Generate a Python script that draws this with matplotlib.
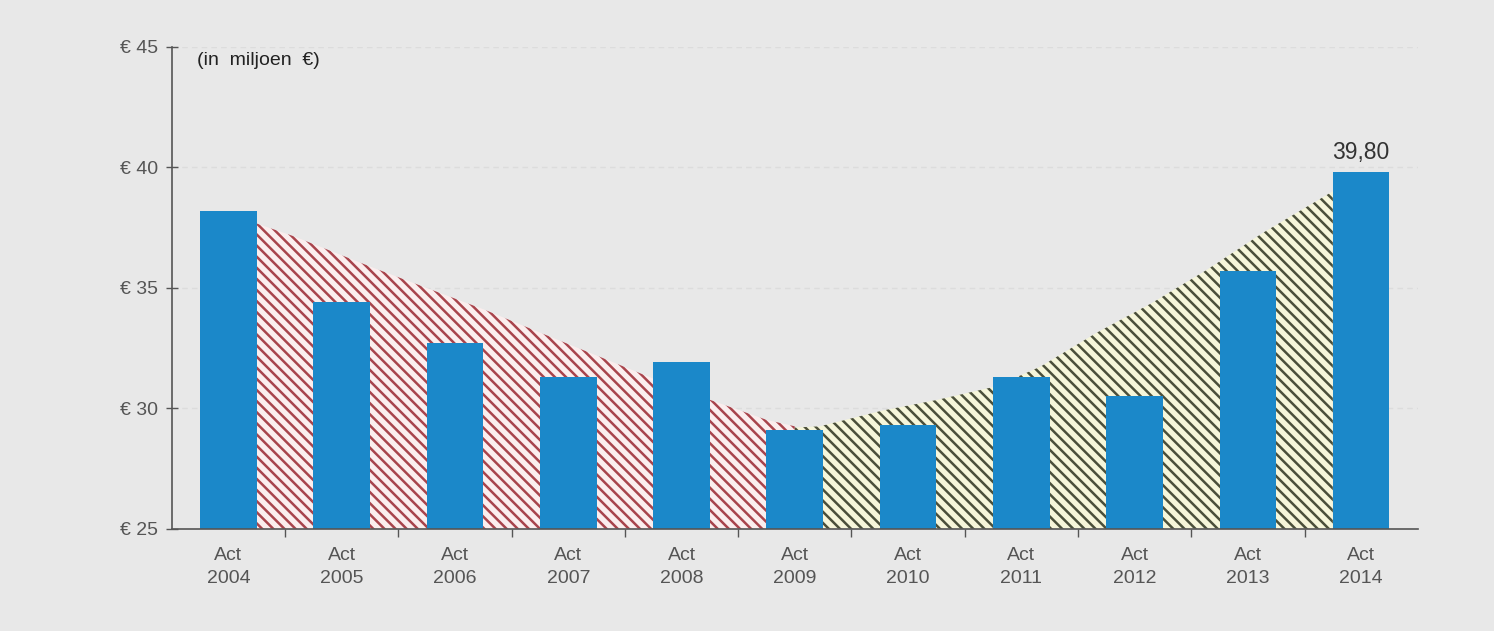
import numpy as np
import matplotlib
matplotlib.use('Agg')
import matplotlib.pyplot as plt

jaren = ['2004', '2005', '2006', '2007', '2008', '2009', '2010', '2011', '2012', '2013', '2014']
waarden = [38.2, 34.4, 32.7, 31.3, 31.9, 29.1, 29.3, 31.3, 30.5, 35.7, 39.8]

# trendlijn dalend (rood) en stijgend (groen)
daling_x = [0.24, 0.58, 1.25, 1.75, 2.26, 2.76, 3.27, 3.74, 4.25, 4.75, 5.0]
daling_y = [37.68, 37.13, 35.88, 34.99, 34.09, 33.12, 32.15, 31.25, 30.35, 29.52, 29.25]
stijging_x = [5.0, 5.22, 5.77, 6.26, 6.77, 7.17, 7.66, 8.15, 8.64, 9.13, 9.75]
stijging_y = [29.2, 29.25, 29.9, 30.35, 30.9, 31.73, 33.12, 34.36, 35.75, 37.27, 39.0]

plt.rcParams['hatch.linewidth'] = 1.8
plt.rcParams['font.family'] = ['Liberation Sans', 'DejaVu Sans']
achtergrond = '#e8e8e8'

fig = plt.figure(figsize=(14.94, 6.31), dpi=100, facecolor=achtergrond)
ax = fig.add_axes([0.115, 0.162, 0.834, 0.764])
ax.set_facecolor(achtergrond)

x = np.arange(len(jaren))
ax.fill_between(daling_x, 25, daling_y, facecolor='#fbeeee', edgecolor='#a8444c',
                hatch='\\\\\\', linewidth=0, zorder=1)
ax.fill_between(stijging_x, 25, stijging_y, facecolor='#f6f6da', edgecolor='#4a4f3a',
                hatch='\\\\\\', linewidth=0, zorder=1)
ax.bar(x, [w - 25 for w in waarden], bottom=25, width=0.5, color='#1b88c9', zorder=2)

ax.set_xlim(-0.5, 10.5)
ax.set_ylim(25, 45)
ax.set_yticks([25, 30, 35, 40, 45])
ax.set_yticklabels(['€ 25', '€ 30', '€ 35', '€ 40', '€ 45'], color='#555555', fontsize=14)
for yy in [30, 35, 40, 45]:
    ax.axhline(yy, color='#dcdcdc', linestyle=(0, (4, 3)), linewidth=1, zorder=0)

ax.set_xticks(x)
ax.set_xticklabels(['Act\n' + j for j in jaren], color='#555555', fontsize=14, linespacing=1.45)
ax.tick_params(axis='x', length=0, pad=13)
ax.set_xticks(np.arange(0.5, 10.5, 1), minor=True)
ax.tick_params(axis='x', which='minor', length=6, color='#555555', width=1)
ax.tick_params(axis='y', length=8, direction='inout', color='#555555', width=1, pad=6)

for s in ['top', 'right']:
    ax.spines[s].set_visible(False)
for s in ['left', 'bottom']:
    ax.spines[s].set_color('#555555')
    ax.spines[s].set_linewidth(1.2)

ax.text(0.02, 0.99, '(in  miljoen  €)', transform=ax.transAxes, fontsize=14,
        color='#222222', va='top', ha='left')
ax.text(x[-1], waarden[-1] + 0.35, '39,80', ha='center', va='bottom', fontsize=16.5, color='#333333')

fig.savefig('out.png', dpi=100, facecolor=achtergrond)
